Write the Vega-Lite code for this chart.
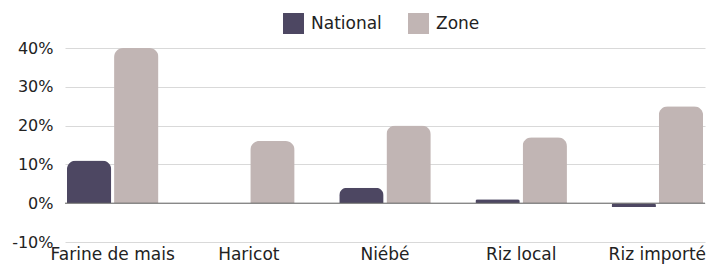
{
  "$schema": "https://vega.github.io/schema/vega-lite/v6.json",
  "width": 640,
  "height": 194,
  "autosize": {"type": "none"},
  "padding": {"left": 65, "top": 48, "right": 20, "bottom": 27},
  "background": "white",
  "config": {
    "font": "DejaVu Sans",
    "view": {"stroke": null}
  },
  "data": {
    "values": [
      {"produit": "Farine de mais", "serie": "National", "valeur": 0.11},
      {"produit": "Farine de mais", "serie": "Zone", "valeur": 0.40},
      {"produit": "Haricot", "serie": "National", "valeur": 0.0},
      {"produit": "Haricot", "serie": "Zone", "valeur": 0.16},
      {"produit": "Niébé", "serie": "National", "valeur": 0.04},
      {"produit": "Niébé", "serie": "Zone", "valeur": 0.20},
      {"produit": "Riz local", "serie": "National", "valeur": 0.01},
      {"produit": "Riz local", "serie": "Zone", "valeur": 0.17},
      {"produit": "Riz importé", "serie": "National", "valeur": -0.01},
      {"produit": "Riz importé", "serie": "Zone", "valeur": 0.25}
    ]
  },
  "layer": [
    {
      "mark": {"type": "bar", "cornerRadiusEnd": 9},
      "encoding": {
        "x": {
          "field": "produit",
          "type": "nominal",
          "sort": null,
          "scale": {"paddingInner": 0.3, "paddingOuter": 0},
          "axis": {
            "title": null,
            "labelAngle": 0,
            "domain": false,
            "ticks": false,
            "labelFontSize": 17,
            "labelColor": "#222222",
            "labelPadding": 4,
            "labelOverlap": false
          }
        },
        "xOffset": {
          "field": "serie",
          "type": "nominal",
          "scale": {"paddingInner": 0.06, "paddingOuter": 0.04}
        },
        "y": {
          "field": "valeur",
          "type": "quantitative",
          "scale": {"domain": [-0.1, 0.4], "nice": false},
          "axis": {
            "title": null,
            "labelExpr": "round(datum.value * 100) + '%'",
            "values": [-0.1, 0, 0.1, 0.2, 0.3, 0.4],
            "tickCount": 12,
            "domain": false,
            "ticks": false,
            "labelFontSize": 16,
            "labelColor": "#222222",
            "labelPadding": 12,
            "labelOverlap": false,
            "labelFlush": false,
            "gridColor": "#d9d9d9",
            "gridWidth": 1
          }
        },
        "color": {
          "field": "serie",
          "type": "nominal",
          "scale": {"domain": ["National", "Zone"], "range": ["#4d4762", "#c1b5b4"]},
          "legend": {
            "title": null,
            "orient": "none",
            "direction": "horizontal",
            "legendX": 218,
            "legendY": -35,
            "symbolType": "square",
            "symbolSize": 440,
            "symbolStrokeWidth": 0,
            "labelFontSize": 17,
            "labelColor": "#222222",
            "labelOffset": 7,
            "columnPadding": 26
          }
        }
      }
    },
    {
      "data": {"values": [{"zero": 0}]},
      "mark": {"type": "rule", "color": "#666666", "strokeWidth": 1},
      "encoding": {
        "y": {"field": "zero", "type": "quantitative"}
      }
    }
  ]
}
